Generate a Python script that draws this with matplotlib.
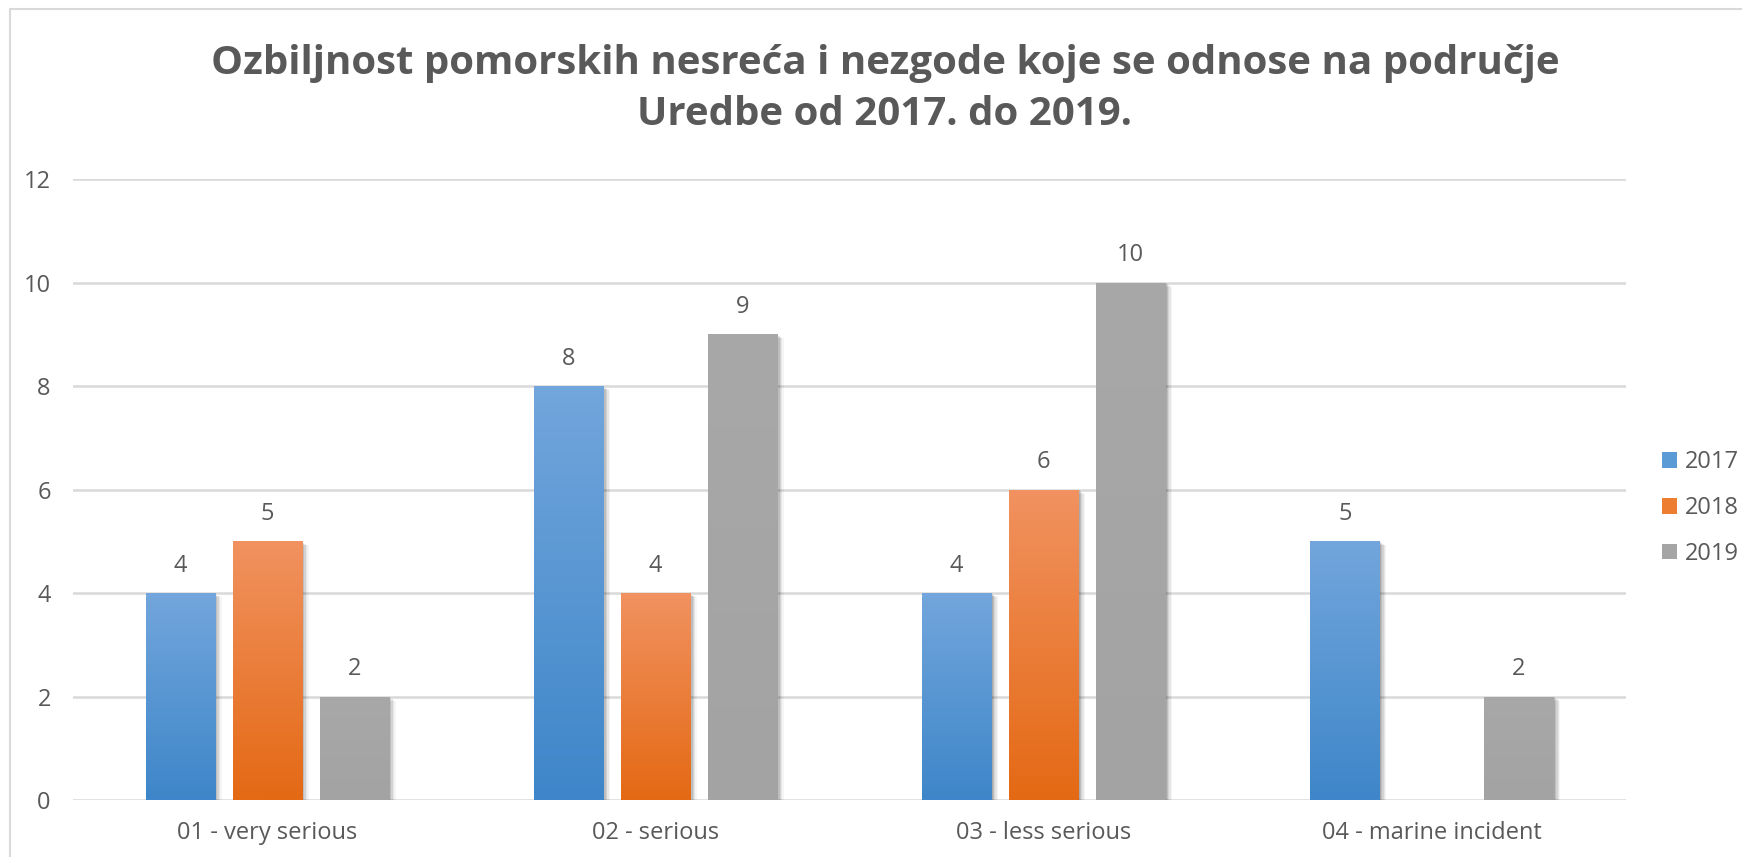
import numpy as np
import matplotlib
matplotlib.use("Agg")
import matplotlib.pyplot as plt
from matplotlib import patheffects
from matplotlib.colors import LinearSegmentedColormap
from matplotlib.patches import Rectangle

plt.rcParams["font.family"] = ["Open Sans", "DejaVu Sans"]

# Podaci
categories = ["01 - very serious", "02 - serious", "03 - less serious", "04 - marine incident"]
years = ["2017", "2018", "2019"]
v2017 = [4, 8, 4, 5]
v2018 = [5, 4, 6, np.nan]
v2019 = [2, 9, 10, 2]
title = "Ozbiljnost pomorskih nesreća i nezgode koje se odnose na područje\nUredbe od 2017. do 2019."

# boje (vrh, dno, legenda)
colors = [("#72a6dc", "#3e86c9", "#5b9bd5"),
          ("#f19260", "#e46914", "#ed7d31"),
          ("#a8a8a8", "#a3a3a3", "#a5a5a5")]
text_col = "#595959"
grid_col = "#d9d9d9"

fig = plt.figure(figsize=(17.42, 8.57), dpi=100)
ax = fig.add_axes([0.0419, 0.0665, 0.8915, 0.7246])

x = np.arange(len(categories))
width = 0.178
step = 0.224
series = [v2017, v2018, v2019]

# mekana sjena desno od stupaca
shadow = [patheffects.SimplePatchShadow(offset=(d, -d * 0.6), shadow_rgbFace="#000000", alpha=a)
          for d, a in [(5, 0.04), (4, 0.06), (3, 0.08), (2, 0.1), (1, 0.1)]]
shadow.append(patheffects.Normal())

for i, vals in enumerate(series):
    top, bot, mid = colors[i]
    bars = ax.bar(x + (i - 1) * step, vals, width, color=mid, label=years[i], zorder=3)
    cmap = LinearSegmentedColormap.from_list("g%d" % i, [bot, top])
    for b in bars:
        h = b.get_height()
        if np.isnan(h):
            continue
        b.set_path_effects(shadow)
        grad = np.linspace(0, 1, 256).reshape(-1, 1)
        im = ax.imshow(grad, cmap=cmap, origin="lower", aspect="auto", zorder=4,
                       extent=[b.get_x(), b.get_x() + b.get_width(), 0, h])
        im.set_clip_path(b)
    labels = ["" if np.isnan(v) else "%d" % v for v in vals]
    ax.bar_label(bars, labels=labels, padding=11, fontsize=17, color=text_col, zorder=5)

ax.set_xlim(-0.5, len(categories) - 0.5)
ax.set_ylim(0, 12)
ax.set_yticks(range(0, 13, 2))
ax.set_xticks(x)
ax.set_xticklabels(categories)
ax.tick_params(axis="both", length=0, labelsize=17, labelcolor=text_col)
ax.tick_params(axis="y", pad=16)
ax.tick_params(axis="x", pad=15)
ax.grid(axis="y", color=grid_col, linewidth=1.8, zorder=0)
for s in ax.spines.values():
    s.set_visible(False)

handles, labs = ax.get_legend_handles_labels()
leg = fig.legend(handles, labs, loc="center left",
                 bbox_to_anchor=(1662 / 1742, 1 - 508 / 857), frameon=False,
                 borderpad=0, borderaxespad=0,
                 fontsize=17, labelcolor=text_col, handlelength=0.65, handleheight=0.65,
                 handletextpad=0.3, labelspacing=0.92)
for p in leg.get_patches():
    p.set_path_effects([])

fig.text(0.508, 0.896, title, ha="center", va="center", fontsize=29,
         fontweight="bold", color=text_col, linespacing=1.4)

# okvir grafikona
fig.add_artist(Rectangle((10 / 1742, -0.1), 1.2, 1.1 - 9 / 857, transform=fig.transFigure,
                         fill=False, edgecolor=grid_col, linewidth=1.5))

fig.savefig("out.png", dpi=100)
